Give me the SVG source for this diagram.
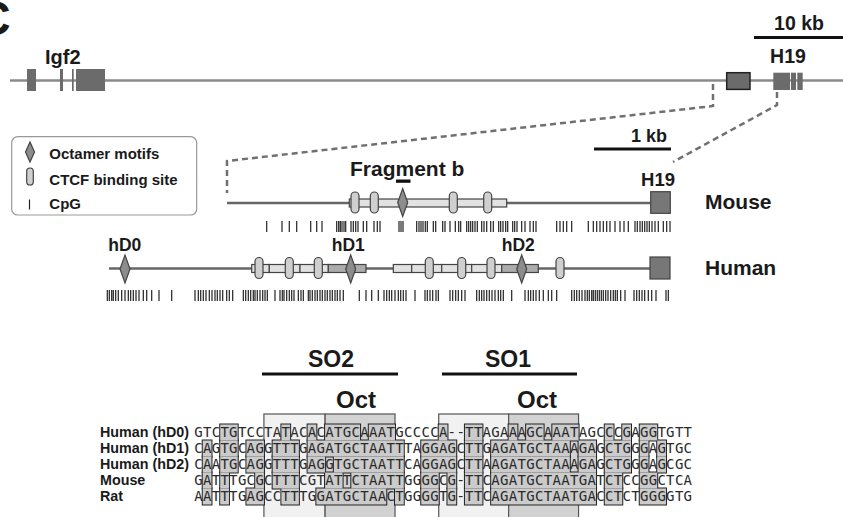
<svg xmlns="http://www.w3.org/2000/svg" xmlns:xlink="http://www.w3.org/1999/xlink" width="843" height="517" viewBox="0 0 843 517">
<style>
.t{font-family:"Liberation Sans",Arial,Helvetica,sans-serif;font-weight:bold;fill:#1a1a1a}
.seq{font-family:"DejaVu Sans Mono","Liberation Mono",monospace;font-size:14px;fill:#2a2a2a;text-anchor:middle}
.lab{font-family:"Liberation Sans",Arial,Helvetica,sans-serif;font-weight:bold;font-size:14.3px;fill:#1a1a1a}
.oval{fill:#cfcfcf;stroke:#444;stroke-width:1.2}
.dia{fill:#8c8c8c;stroke:#444;stroke-width:1.2}
.exon{fill:#6b6b6b}
.seg{fill:#e2e2e2;stroke:#444;stroke-width:1.2}
.segd{fill:#ababab;stroke:#444;stroke-width:1.2}
.dash{fill:none;stroke:#707070;stroke-width:2.5;stroke-dasharray:6 4}
.cpg{fill:none;stroke:#222;stroke-width:1.2}
.chr{stroke:#8a8a8a;stroke-width:2.5}
.dna{stroke:#666;stroke-width:2.5}
.bar{stroke:#111;stroke-width:3.2}
</style>
<defs>
<g id="sh">
<rect x="220.22" y="424.5" width="17.48" height="16"/>
<rect x="281.4" y="424.5" width="8.74" height="16"/>
<rect x="307.62" y="424.5" width="8.74" height="16"/>
<rect x="325.1" y="424.5" width="34.96" height="16"/>
<rect x="368.8" y="424.5" width="26.22" height="16"/>
<rect x="438.72" y="424.5" width="8.74" height="16"/>
<rect x="464.94" y="424.5" width="17.48" height="16"/>
<rect x="508.64" y="424.5" width="8.74" height="16"/>
<rect x="526.12" y="424.5" width="17.48" height="16"/>
<rect x="552.34" y="424.5" width="26.22" height="16"/>
<rect x="604.78" y="424.5" width="8.74" height="16"/>
<rect x="622.26" y="424.5" width="8.74" height="16"/>
<rect x="639.74" y="424.5" width="17.48" height="16"/>

<rect x="202.74" y="440.5" width="8.74" height="16"/>
<rect x="220.22" y="440.5" width="17.48" height="16"/>
<rect x="246.44" y="440.5" width="17.48" height="16"/>
<rect x="272.66" y="440.5" width="26.22" height="16"/>
<rect x="307.62" y="440.5" width="96.14" height="16"/>
<rect x="421.24" y="440.5" width="34.96" height="16"/>
<rect x="464.94" y="440.5" width="17.48" height="16"/>
<rect x="491.16" y="440.5" width="78.66" height="16"/>
<rect x="578.56" y="440.5" width="17.48" height="16"/>
<rect x="604.78" y="440.5" width="26.22" height="16"/>
<rect x="639.74" y="440.5" width="8.74" height="16"/>
<rect x="657.22" y="440.5" width="8.74" height="16"/>

<rect x="202.74" y="456.5" width="8.74" height="16"/>
<rect x="220.22" y="456.5" width="17.48" height="16"/>
<rect x="246.44" y="456.5" width="17.48" height="16"/>
<rect x="272.66" y="456.5" width="26.22" height="16"/>
<rect x="307.62" y="456.5" width="17.48" height="16"/>
<rect x="333.84" y="456.5" width="69.92" height="16"/>
<rect x="421.24" y="456.5" width="34.96" height="16"/>
<rect x="464.94" y="456.5" width="17.48" height="16"/>
<rect x="491.16" y="456.5" width="78.66" height="16"/>
<rect x="578.56" y="456.5" width="17.48" height="16"/>
<rect x="604.78" y="456.5" width="26.22" height="16"/>
<rect x="639.74" y="456.5" width="8.74" height="16"/>
<rect x="657.22" y="456.5" width="8.74" height="16"/>

<rect x="202.74" y="472.5" width="8.74" height="16"/>
<rect x="220.22" y="472.5" width="8.74" height="16"/>
<rect x="255.18" y="472.5" width="8.74" height="16"/>
<rect x="272.66" y="472.5" width="26.22" height="16"/>
<rect x="325.1" y="472.5" width="17.48" height="16"/>
<rect x="351.32" y="472.5" width="52.44" height="16"/>
<rect x="421.24" y="472.5" width="17.48" height="16"/>
<rect x="447.46" y="472.5" width="8.74" height="16"/>
<rect x="464.94" y="472.5" width="17.48" height="16"/>
<rect x="491.16" y="472.5" width="104.88" height="16"/>
<rect x="604.78" y="472.5" width="17.48" height="16"/>
<rect x="639.74" y="472.5" width="17.48" height="16"/>

<rect x="202.74" y="488.5" width="8.74" height="16"/>
<rect x="220.22" y="488.5" width="8.74" height="16"/>
<rect x="246.44" y="488.5" width="17.48" height="16"/>
<rect x="281.4" y="488.5" width="17.48" height="16"/>
<rect x="316.36" y="488.5" width="69.92" height="16"/>
<rect x="395.02" y="488.5" width="8.74" height="16"/>
<rect x="421.24" y="488.5" width="17.48" height="16"/>
<rect x="447.46" y="488.5" width="8.74" height="16"/>
<rect x="464.94" y="488.5" width="17.48" height="16"/>
<rect x="491.16" y="488.5" width="104.88" height="16"/>
<rect x="604.78" y="488.5" width="17.48" height="16"/>
<rect x="639.74" y="488.5" width="26.22" height="16"/>
</g>
</defs>

<text class="t" x="-24" y="35" font-size="48">C</text>

<g id="connectors">
<path class="dash" d="M713,84V106L227,161V193"/>
<path class="dash" d="M777,92V105L673,162"/>
</g>

<g id="chromosome">
<line class="chr" x1="10" y1="80.5" x2="843" y2="80.5"/>
<text class="t" x="45" y="64" font-size="20">Igf2</text>
<rect class="exon" x="27" y="69" width="9" height="22"/>
<rect class="exon" x="60" y="69" width="3" height="22"/>
<rect class="exon" x="72" y="69" width="1.7" height="22"/>
<rect class="exon" x="76" y="69" width="29" height="22"/>
<rect x="726.7" y="72.7" width="23.3" height="16.7" fill="#6b6b6b" stroke="#222" stroke-width="1.5"/>
<rect class="exon" x="773.3" y="72.7" width="16.7" height="17.3"/>
<rect class="exon" x="791" y="72.7" width="5" height="17.3"/>
<rect class="exon" x="797.3" y="72.7" width="5.4" height="17.3"/>
<text class="t" x="788" y="63" font-size="19.5" text-anchor="middle">H19</text>
<text class="t" x="799" y="30" font-size="19.5" text-anchor="middle">10 kb</text>
<line class="bar" x1="754" y1="37.5" x2="843" y2="37.5"/>
</g>

<g id="legend">
<rect x="11.7" y="136.7" width="185" height="78.3" rx="6" fill="#fff" stroke="#999" stroke-width="1.2"/>
<polygon class="dia" points="30,142 34.5,152 30,162 25.5,152"/>
<text class="t" x="49.3" y="159" font-size="15">Octamer motifs</text>
<rect class="oval" x="26.7" y="168" width="6.6" height="17" rx="3.3"/>
<text class="t" x="49.3" y="185" font-size="15">CTCF binding site</text>
<line class="cpg" x1="29.5" y1="199.5" x2="29.5" y2="209.5"/>
<text class="t" x="49.3" y="208.5" font-size="15">CpG</text>
</g>

<g id="mouse">
<line class="dna" x1="227" y1="203" x2="651" y2="203"/>
<text class="t" x="631" y="142" font-size="18">1 kb</text>
<line class="bar" x1="594" y1="149" x2="671" y2="149"/>
<text class="t" x="350" y="176" font-size="21">Fragment b</text>
<rect x="396" y="179.5" width="14.5" height="3.3" fill="#111"/>
<rect class="seg" x="349.3" y="199" width="157.4" height="8"/>
<rect class="oval" x="351" y="192" width="8" height="21" rx="4"/>
<rect class="oval" x="370.3" y="192" width="8" height="21" rx="4"/>
<rect class="oval" x="449.3" y="192" width="8" height="21" rx="4"/>
<rect class="oval" x="483.7" y="192" width="8" height="21" rx="4"/>
<polygon class="dia" points="402.7,188.5 407.7,202.5 402.7,216.5 397.7,202.5"/>
<text class="t" x="658" y="186" font-size="18.5" text-anchor="middle">H19</text>
<rect x="650.7" y="191.7" width="19.6" height="21.6" fill="#777" stroke="#444" stroke-width="1.2"/>
<text class="t" x="705" y="209" font-size="21">Mouse</text>
<path class="cpg" d="M266.7,221v11M282,221v11M289.3,221v11M296.7,221v11M310.7,221v11M316.7,221v11M322,221v11M336.7,221v11M338.7,221v11M340.3,221v11M342,221v11M344,221v11M345.7,221v11M351,221v11M353.3,221v11M355.7,221v11M358,221v11M363.3,221v11M366.7,221v11M374,221v11M377.3,221v11M380,221v11M399,221v11M401,221v11M403,221v11M416.7,221v11M419,221v11M421,221v11M423,221v11M425.3,221v11M427.3,221v11M433.3,221v11M435.7,221v11M442.7,221v11M445,221v11M450,221v11M455.3,221v11M458.7,221v11M460.7,221v11M466.7,221v11M468.7,221v11M470.7,221v11M472.7,221v11M475,221v11M477.3,221v11M481.7,221v11M484,221v11M486.7,221v11M490.7,221v11M493.3,221v11M498.7,221v11M500.7,221v11M503,221v11M505.7,221v11M507.7,221v11M512.7,221v11M514.7,221v11M517,221v11M521.7,221v11M525,221v11M530,221v11M533.3,221v11M536,221v11M556.7,221v11M560,221v11M563.3,221v11M566.7,221v11M571.7,221v11M588.3,221v11M593.3,221v11M596.7,221v11M600,221v11M603.3,221v11M606.7,221v11M610,221v11M615,221v11M620,221v11M624,221v11M628.3,221v11M635,221v11M637.3,221v11M640,221v11M642.3,221v11M644.7,221v11M647,221v11M649.3,221v11M652,221v11M655,221v11M658.3,221v11M663.3,221v11M666.7,221v11M670,221v11"/>
</g>

<g id="human">
<line class="dna" x1="109" y1="268.5" x2="650" y2="268.5"/>
<text class="t" x="108.3" y="251" font-size="17.5">hD0</text>
<text class="t" x="331.7" y="251" font-size="17.5">hD1</text>
<text class="t" x="501.7" y="251" font-size="17.5">hD2</text>
<polygon class="dia" points="125,255 130,269 125,283 120,269"/>
<rect class="seg" x="251.7" y="264.5" width="17.6" height="8"/>
<rect class="seg" x="269.3" y="264.5" width="30.7" height="8"/>
<rect class="seg" x="300" y="264.5" width="28.3" height="8"/>
<rect class="segd" x="328.3" y="264.5" width="37.7" height="8"/>
<rect class="seg" x="393.3" y="264.5" width="18.4" height="8"/>
<rect class="seg" x="411.7" y="264.5" width="30" height="8"/>
<rect class="seg" x="441.7" y="264.5" width="30" height="8"/>
<rect class="seg" x="471.7" y="264.5" width="30" height="8"/>
<rect class="segd" x="501.7" y="264.5" width="36.6" height="8"/>
<rect class="oval" x="255" y="257.5" width="8" height="21" rx="4"/>
<rect class="oval" x="285.3" y="257.5" width="8" height="21" rx="4"/>
<rect class="oval" x="314.3" y="257.5" width="8" height="21" rx="4"/>
<rect class="oval" x="425.3" y="257.5" width="8" height="21" rx="4"/>
<rect class="oval" x="457.7" y="257.5" width="8" height="21" rx="4"/>
<rect class="oval" x="487" y="257.5" width="8" height="21" rx="4"/>
<rect class="oval" x="556" y="257.5" width="8" height="21" rx="4"/>
<polygon class="dia" points="350.7,255 355.7,269 350.7,283 345.7,269"/>
<polygon class="dia" points="521.7,255 526.7,269 521.7,283 516.7,269"/>
<rect x="650" y="257" width="20" height="22" fill="#777" stroke="#444" stroke-width="1.2"/>
<text class="t" x="705" y="275" font-size="21">Human</text>
<path class="cpg" d="M107.3,290v11M109.3,290v11M111.7,290v11M113.3,290v11M115.7,290v11M118.3,290v11M121.7,290v11M125,290v11M128.3,290v11M130.7,290v11M133.3,290v11M136,290v11M139,290v11M143.3,290v11M146.7,290v11M151.7,290v11M159,290v11M171.7,290v11M195,290v11M198.3,290v11M200.7,290v11M203.3,290v11M206,290v11M209.3,290v11M212,290v11M215,290v11M217.3,290v11M220,290v11M222.7,290v11M226.7,290v11M229.3,290v11M232.7,290v11M243.3,290v11M245.7,290v11M248.3,290v11M250.7,290v11M253.3,290v11M255,290v11M257.3,290v11M260,290v11M262.7,290v11M265,290v11M267.3,290v11M275,290v11M280,290v11M282.3,290v11M284,290v11M286.7,290v11M289.3,290v11M291.7,290v11M294,290v11M298.3,290v11M301,290v11M303.3,290v11M308.3,290v11M310,290v11M312.3,290v11M315,290v11M317.3,290v11M320,290v11M322.3,290v11M325,290v11M327.3,290v11M330,290v11M332.3,290v11M335,290v11M337.3,290v11M340,290v11M343.3,290v11M359.3,290v11M366,290v11M371.7,290v11M378.3,290v11M384,290v11M386.7,290v11M389.3,290v11M391.7,290v11M395,290v11M398.3,290v11M400.7,290v11M403.3,290v11M406,290v11M415,290v11M425,290v11M427.3,290v11M430,290v11M432.7,290v11M436,290v11M438.3,290v11M450,290v11M452.7,290v11M455.7,290v11M458.3,290v11M461.7,290v11M465,290v11M476.7,290v11M479.3,290v11M481.7,290v11M484,290v11M486.7,290v11M489.3,290v11M492,290v11M495,290v11M498.3,290v11M500.7,290v11M503.3,290v11M511.7,290v11M525,290v11M528.3,290v11M530.7,290v11M533.3,290v11M536,290v11M539.3,290v11M543.3,290v11M548.3,290v11M551.7,290v11M556.7,290v11M571.7,290v11M574.3,290v11M576.7,290v11M579.3,290v11M582,290v11M585,290v11M587.3,290v11M589.3,290v11M591.7,290v11M593.3,290v11M595.3,290v11M597.3,290v11M599.3,290v11M601.3,290v11M603.3,290v11M605.7,290v11M608,290v11M610.7,290v11M613.3,290v11M615.3,290v11M617.3,290v11M620.7,290v11M625,290v11M634,290v11M636.7,290v11M639.3,290v11M642,290v11M644.7,290v11M648.3,290v11M651.7,290v11M656,290v11M666,290v11M668.3,290v11"/>
</g>

<g id="SO2">
<text class="t" x="331" y="367" font-size="23" text-anchor="middle">SO2</text>
<line class="bar" x1="262" y1="374" x2="398" y2="374"/>
<text class="t" x="356" y="408" font-size="24" text-anchor="middle">Oct</text>
<rect x="263.92" y="414" width="61.18" height="110" fill="#f1f1f1" stroke="#555" stroke-width="1.2"/>
<rect x="325.1" y="414" width="69.92" height="110" fill="#d2d2d2" stroke="#555" stroke-width="1.2"/>
</g>
<g id="SO1">
<text class="t" x="508" y="367" font-size="23" text-anchor="middle">SO1</text>
<line class="bar" x1="442" y1="374" x2="577" y2="374"/>
<text class="t" x="537" y="408" font-size="24" text-anchor="middle">Oct</text>
<rect x="438.72" y="414" width="69.92" height="110" fill="#f1f1f1" stroke="#555" stroke-width="1.2"/>
<rect x="508.64" y="414" width="69.92" height="110" fill="#d2d2d2" stroke="#555" stroke-width="1.2"/>
</g>

<g id="alignment">
<use xlink:href="#sh" href="#sh" fill="#cbcbcb" stroke="#222" stroke-width="2"/>
<use xlink:href="#sh" href="#sh" fill="#cbcbcb" stroke="none"/>
<text class="lab" x="100" y="437">Human (hD0)</text>
<text class="lab" x="100" y="453">Human (hD1)</text>
<text class="lab" x="100" y="469">Human (hD2)</text>
<text class="lab" x="100" y="485">Mouse</text>
<text class="lab" x="100" y="501">Rat</text>
<text class="seq" y="437" x="198.4 207.1 215.9 224.6 233.3 242.1 250.8 259.6 268.3 277.0 285.8 294.5 303.3 312.0 320.7 329.5 338.2 347.0 355.7 364.4 373.2 381.9 390.7 399.4 408.1 416.9 425.6 434.4 443.1 451.8 460.6 469.3 478.1 486.8 495.5 504.3 513.0 521.8 530.5 539.2 548.0 556.7 565.5 574.2 582.9 591.7 600.4 609.2 617.9 626.6 635.4 644.1 652.9 661.6 670.3 679.1 687.8">GTCTGTCCTATACACATGCAAATGCCCCA--TTAGAAAGCAAATAGCCCGAGGTGTT</text>
<text class="seq" y="453" x="198.4 207.1 215.9 224.6 233.3 242.1 250.8 259.6 268.3 277.0 285.8 294.5 303.3 312.0 320.7 329.5 338.2 347.0 355.7 364.4 373.2 381.9 390.7 399.4 408.1 416.9 425.6 434.4 443.1 451.8 460.6 469.3 478.1 486.8 495.5 504.3 513.0 521.8 530.5 539.2 548.0 556.7 565.5 574.2 582.9 591.7 600.4 609.2 617.9 626.6 635.4 644.1 652.9 661.6 670.3 679.1 687.8">CAGTGCAGGTTTGAGATGCTAATTTAGGAGCTTGAGATGCTAAAGAGCTGGGAGTGC</text>
<text class="seq" y="469" x="198.4 207.1 215.9 224.6 233.3 242.1 250.8 259.6 268.3 277.0 285.8 294.5 303.3 312.0 320.7 329.5 338.2 347.0 355.7 364.4 373.2 381.9 390.7 399.4 408.1 416.9 425.6 434.4 443.1 451.8 460.6 469.3 478.1 486.8 495.5 504.3 513.0 521.8 530.5 539.2 548.0 556.7 565.5 574.2 582.9 591.7 600.4 609.2 617.9 626.6 635.4 644.1 652.9 661.6 670.3 679.1 687.8">CAATGCAGGTTTGAGGTGCTAATTCAGGAGCTTAAGATGCTAAAGAGCTGGGAGCGC</text>
<text class="seq" y="485" x="198.4 207.1 215.9 224.6 233.3 242.1 250.8 259.6 268.3 277.0 285.8 294.5 303.3 312.0 320.7 329.5 338.2 347.0 355.7 364.4 373.2 381.9 390.7 399.4 408.1 416.9 425.6 434.4 443.1 451.8 460.6 469.3 478.1 486.8 495.5 504.3 513.0 521.8 530.5 539.2 548.0 556.7 565.5 574.2 582.9 591.7 600.4 609.2 617.9 626.6 635.4 644.1 652.9 661.6 670.3 679.1 687.8">GATTTGCGCTTTCGTATTCTAATTGGGGCG-TTCAGATGCTAATGATCTCCGGCTCA</text>
<text class="seq" y="501" x="198.4 207.1 215.9 224.6 233.3 242.1 250.8 259.6 268.3 277.0 285.8 294.5 303.3 312.0 320.7 329.5 338.2 347.0 355.7 364.4 373.2 381.9 390.7 399.4 408.1 416.9 425.6 434.4 443.1 451.8 460.6 469.3 478.1 486.8 495.5 504.3 513.0 521.8 530.5 539.2 548.0 556.7 565.5 574.2 582.9 591.7 600.4 609.2 617.9 626.6 635.4 644.1 652.9 661.6 670.3 679.1 687.8">AATTTGAGCCTTTGGATGCTAACTGGGGTG-TTCAGATGCTAATGACCTCTGGGGTG</text>
</g>
</svg>
